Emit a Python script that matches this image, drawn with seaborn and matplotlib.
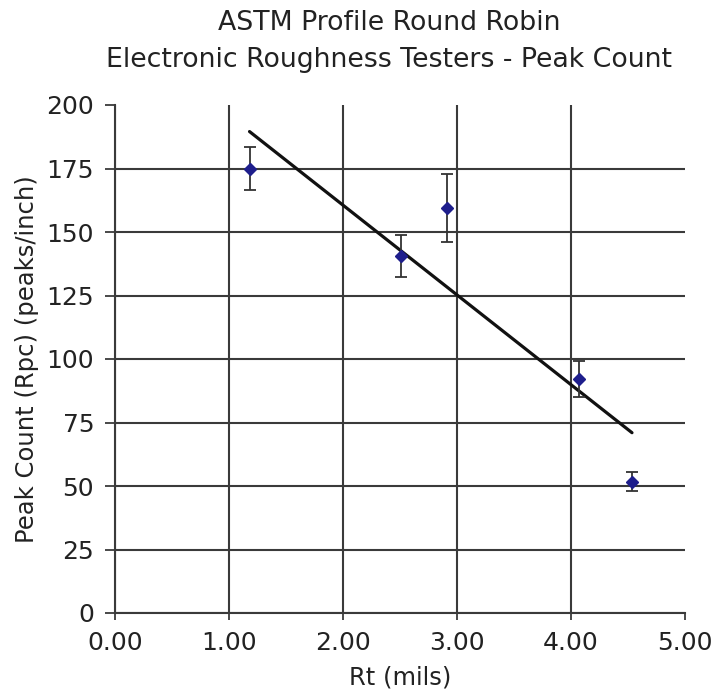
import matplotlib
matplotlib.use("Agg")
import matplotlib.pyplot as plt
import seaborn as sns
import numpy as np
import pandas as pd

# Data
rt_mils = [1.18, 2.51, 2.91, 4.07, 4.535]
peak_count = [175.0, 140.7, 159.4, 92.1, 51.7]
error = [8.5, 8.3, 13.4, 7.0, 3.7]
x_ticks = [0, 1, 2, 3, 4, 5]
y_ticks = [0, 25, 50, 75, 100, 125, 150, 175, 200]
title_lines = ["ASTM Profile Round Robin", "Electronic Roughness Testers - Peak Count"]
x_label = "Rt (mils)"
y_label = "Peak Count (Rpc) (peaks/inch)"

df = pd.DataFrame({"Rt": rt_mils, "Rpc": peak_count, "err": error})

sns.set_theme(style="white")
plt.rcParams["font.family"] = ["DejaVu Sans"]

W, H = 713, 693
fig = plt.figure(figsize=(W / 100, H / 100), dpi=100)
ax = fig.add_axes([115 / W, 1 - 613 / H, 570 / W, 508 / H])

text_color = "#222222"
grid_color = "#3a3a3a"

# regression trend line through the points
sns.regplot(data=df, x="Rt", y="Rpc", scatter=False, ci=None, truncate=True,
            color="#111111", line_kws={"linewidth": 2.3}, ax=ax)

ax.errorbar(df["Rt"], df["Rpc"], yerr=df["err"], fmt="D", color="#1e1e8c",
            markersize=6.5, ecolor="#333333", elinewidth=1.3, capsize=4.5,
            capthick=1.3, zorder=5)

ax.set_xlim(0, 5)
ax.set_ylim(0, 200)
ax.set_xticks(x_ticks)
ax.set_xticklabels([f"{v:.2f}" for v in x_ticks])
ax.set_yticks(y_ticks)
ax.set_yticklabels([str(v) for v in y_ticks])
ax.grid(True, color=grid_color, linewidth=1.5)
ax.set_axisbelow(True)
ax.xaxis.get_gridlines()[-1].set_visible(False)
ax.yaxis.get_gridlines()[-1].set_visible(False)

for s in ["top", "right"]:
    ax.spines[s].set_visible(False)
for s in ["left", "bottom"]:
    ax.spines[s].set_color(grid_color)
    ax.spines[s].set_linewidth(1.5)

ax.tick_params(axis="both", which="major", direction="out", width=1.3,
               color=grid_color, labelsize=18, labelcolor=text_color)
ax.tick_params(axis="x", bottom=True, length=5, pad=8)
ax.tick_params(axis="y", left=True, length=7, pad=8)

ax.set_xlabel(x_label, fontsize=17.5, color=text_color)
ax.set_ylabel(y_label, fontsize=17.5, color=text_color)
ax.xaxis.set_label_coords(0.5, (613 - 666) / 508)
ax.yaxis.set_label_coords((39 - 115) / 570, 0.5)

fig.text(389 / W, 1 - 30 / H, title_lines[0], fontsize=19.3, color=text_color,
         ha="center", va="baseline")
fig.text(389 / W, 1 - 67 / H, title_lines[1], fontsize=19.3, color=text_color,
         ha="center", va="baseline")

fig.savefig("out.png", dpi=100)
